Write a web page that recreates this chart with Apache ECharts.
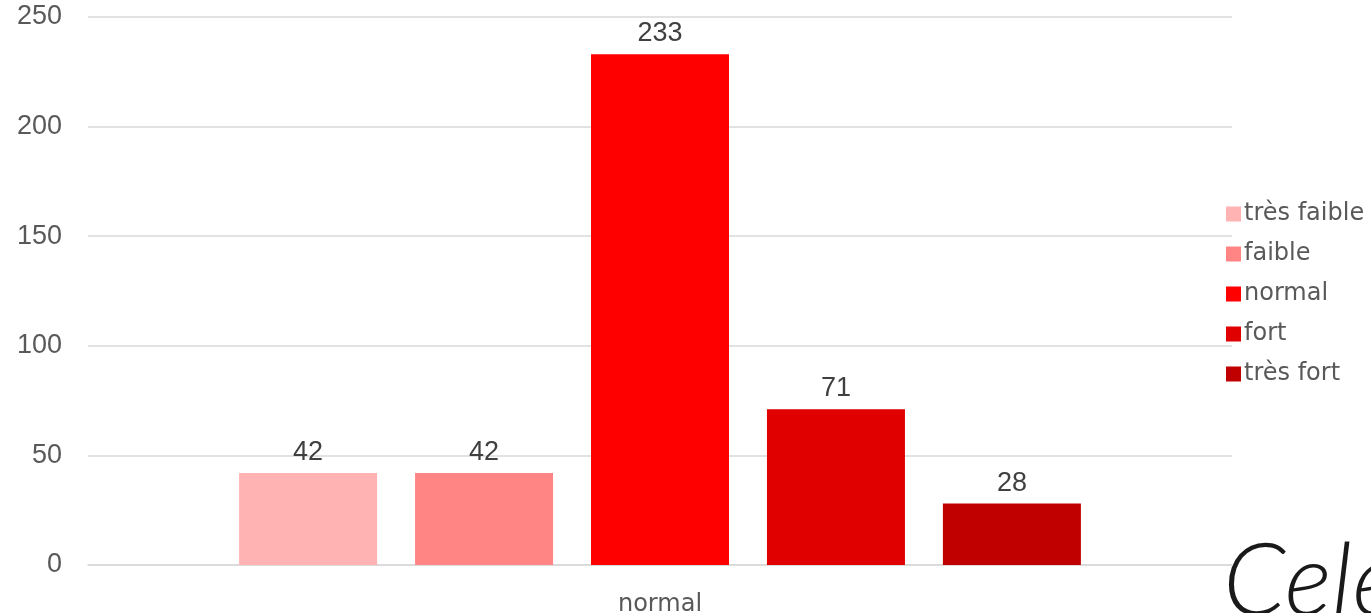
<!DOCTYPE html>
<html>
<head>
<meta charset="utf-8">
<script src="https://cdn.jsdelivr.net/npm/echarts@6/dist/echarts.min.js"></script>
<style>
html,body{margin:0;padding:0;background:#fff;}
#c{width:1371px;height:613px;}
</style>
</head>
<body>
<div id="c"></div>
<script>
const categories = ['normal'];
const seriesNames = ['très faible', 'faible', 'normal', 'fort', 'très fort'];
const seriesValues = [[42], [42], [233], [71], [28]];
const seriesColors = ['#FFB3B3', '#FF8585', '#FF0000', '#E00000', '#C00000'];
const yTicks = [0, 50, 100, 150, 200, 250];

const chart = echarts.init(document.getElementById('c'), null, {renderer: 'canvas'});
const series = seriesNames.map((name, i) => ({
  name: name,
  type: 'bar',
  data: seriesValues[i],
  barWidth: 138,
  barGap: '27.5%',
  itemStyle: {color: seriesColors[i]},
  label: {
    show: true,
    position: 'top',
    distance: 7,
    color: '#404040',
    fontSize: 27,
    fontFamily: 'Liberation Sans'
  }
}));

chart.setOption({
  animation: false,
  backgroundColor: '#ffffff',
  grid: {left: 88, right: 139, top: 17, bottom: 48, containLabel: false, outerBoundsMode: 'none'},
  legend: {
    orient: 'vertical',
    left: 1221,
    top: 197,
    itemWidth: 15,
    itemHeight: 15,
    itemGap: 16,
    icon: 'rect',
    data: seriesNames,
    textStyle: {color: '#595959', fontSize: 24, lineHeight: 24, fontFamily: 'DejaVu Sans', padding: [0, 0, 0, -2]}
  },
  xAxis: {
    type: 'category',
    data: categories,
    axisLine: {show: true, lineStyle: {color: '#d9d9d9', width: 1.5}},
    axisTick: {show: false},
    axisLabel: {color: '#595959', fontSize: 24, fontFamily: 'DejaVu Sans', margin: 28}
  },
  yAxis: {
    type: 'value',
    min: yTicks[0],
    max: yTicks[yTicks.length - 1],
    interval: 50,
    axisLine: {show: false},
    axisTick: {show: false},
    splitLine: {lineStyle: {color: '#d9d9d9', width: 1.5}},
    axisLabel: {color: '#595959', fontSize: 27, fontFamily: 'Liberation Sans', margin: 26}
  },
  graphic: [{
    type: 'text',
    left: 1223,
    top: 533,
    style: {
      text: 'Cele',
      font: 'italic 300 100px Lato',
      fill: '#1a1a1a'
    }
  }],
  series: series
});
</script>
</body>
</html>
